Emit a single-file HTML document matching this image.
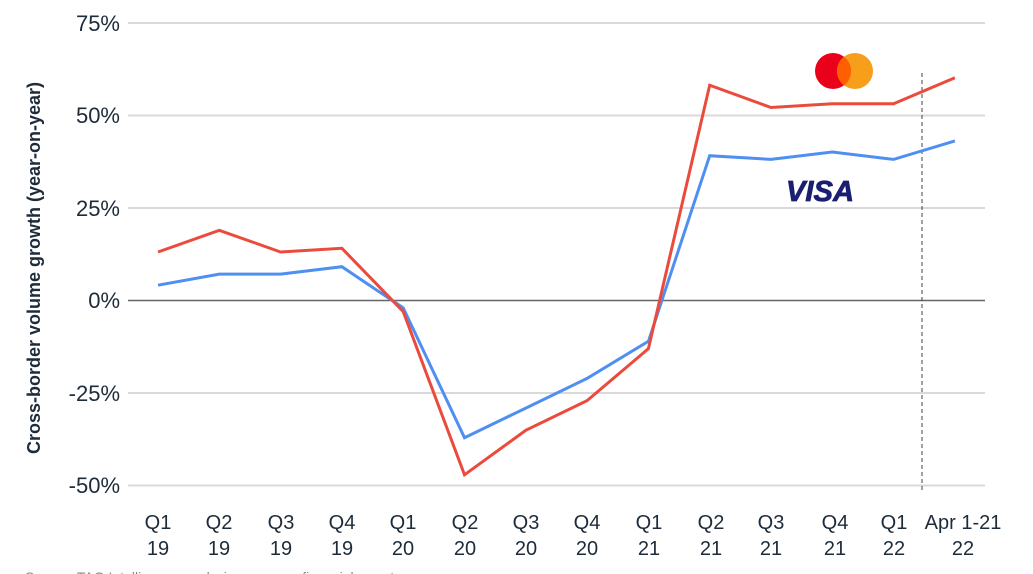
<!DOCTYPE html>
<html><head><meta charset="utf-8"><style>
body{margin:0;background:#fff}
svg{display:block}
text{font-family:"Liberation Sans",sans-serif;fill:#1d2b3a}
</style></head><body>
<svg width="1033" height="574" viewBox="0 0 1033 574">
<g stroke="#d9d9d9" stroke-width="2">
<line x1="128" x2="985" y1="23" y2="23"/>
<line x1="128" x2="985" y1="115.5" y2="115.5"/>
<line x1="128" x2="985" y1="208" y2="208"/>
<line x1="128" x2="985" y1="393" y2="393"/>
<line x1="128" x2="985" y1="485.5" y2="485.5"/>
</g>
<line x1="128" x2="985" y1="300.5" y2="300.5" stroke="#666" stroke-width="1.5"/>
<line x1="922" x2="922" y1="73" y2="490" stroke="#444" stroke-width="1" stroke-dasharray="4,3"/>
<g font-size="22" text-anchor="end">
<text x="120" y="31">75%</text>
<text x="120" y="123">50%</text>
<text x="120" y="216">25%</text>
<text x="120" y="308">0%</text>
<text x="120" y="401">-25%</text>
<text x="120" y="493">-50%</text>
</g>
<text transform="translate(40,268) rotate(-90)" font-size="18" font-weight="bold" text-anchor="middle">Cross-border volume growth (year-on-year)</text>
<polyline fill="none" stroke="#4f8ff2" stroke-width="3" points="158,285.2 219.3,274.1 280.6,274.1 341.9,266.7 403.2,307.9 464.5,437.7 525.8,408.1 587.1,378.4 648.4,341.3 709.7,155.7 771,159.4 832.3,152 893.6,159.4 954.9,140.9"/>
<polyline fill="none" stroke="#ea4b3c" stroke-width="3" points="158,252 219.3,230.3 280.6,252 341.9,248.3 403.2,311.6 464.5,474.8 525.8,430.3 587.1,400.6 648.4,348.7 709.7,85.2 771,107.5 832.3,103.8 893.6,103.8 954.9,77.8"/>
<circle cx="833" cy="71" r="18" fill="#eb001b"/>
<circle cx="855" cy="71" r="18" fill="#f79e1b"/>
<path d="M844,56.7 A18,18 0 0 1 844,85.3 A18,18 0 0 1 844,56.7Z" fill="#ff5f00"/>
<text x="786" y="201" font-size="29" font-weight="bold" font-style="italic" style="fill:#1a1f71;stroke:#1a1f71;stroke-width:0.8" textLength="68" lengthAdjust="spacingAndGlyphs">VISA</text>
<g font-size="20" text-anchor="middle">
<text x="158" y="529">Q1</text><text x="158" y="555">19</text>
<text x="219" y="529">Q2</text><text x="219" y="555">19</text>
<text x="281" y="529">Q3</text><text x="281" y="555">19</text>
<text x="342" y="529">Q4</text><text x="342" y="555">19</text>
<text x="403" y="529">Q1</text><text x="403" y="555">20</text>
<text x="465" y="529">Q2</text><text x="465" y="555">20</text>
<text x="526" y="529">Q3</text><text x="526" y="555">20</text>
<text x="587" y="529">Q4</text><text x="587" y="555">20</text>
<text x="649" y="529">Q1</text><text x="649" y="555">21</text>
<text x="711" y="529">Q2</text><text x="711" y="555">21</text>
<text x="771" y="529">Q3</text><text x="771" y="555">21</text>
<text x="835" y="529">Q4</text><text x="835" y="555">21</text>
<text x="894" y="529">Q1</text><text x="894" y="555">22</text>
<text x="963" y="529">Apr 1-21</text><text x="963" y="555">22</text>
</g>
<text x="25" y="582" font-size="14" style="fill:#888">Source: TAG Intelligence analysis; company financial reports</text>
</svg>
</body></html>
